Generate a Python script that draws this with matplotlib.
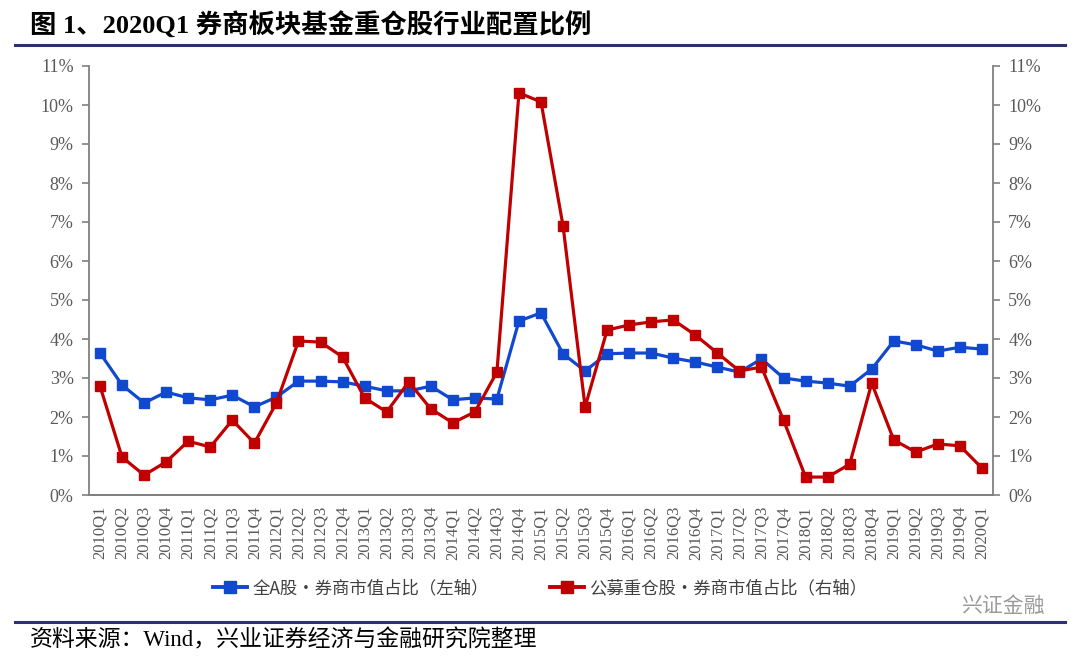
import matplotlib
matplotlib.use("Agg")
import matplotlib.pyplot as plt
from matplotlib.ticker import FuncFormatter, MultipleLocator
from matplotlib.lines import Line2D

plt.rcParams['font.family'] = ['Liberation Serif', 'Noto Sans CJK SC', 'DejaVu Sans']

quarters = [f"{y}Q{q}" for y in range(2010, 2020) for q in range(1, 5)] + ["2020Q1"]

# 全A股·券商市值占比 (左轴, %)
all_a = [3.64, 2.82, 2.36, 2.64, 2.49, 2.44, 2.56, 2.26, 2.51, 2.92,
         2.92, 2.90, 2.79, 2.67, 2.67, 2.79, 2.44, 2.49, 2.46, 4.46,
         4.67, 3.62, 3.18, 3.62, 3.64, 3.64, 3.51, 3.41, 3.28, 3.15,
         3.49, 3.00, 2.92, 2.87, 2.79, 3.23, 3.95, 3.85, 3.69, 3.79,
         3.74]
# 公募重仓股·券商市值占比 (右轴, %)
fund_heavy = [2.79, 0.97, 0.51, 0.85, 1.38, 1.23, 1.92, 1.33, 2.36, 3.95,
              3.92, 3.54, 2.49, 2.13, 2.90, 2.21, 1.85, 2.13, 3.15, 10.31,
              10.08, 6.90, 2.26, 4.23, 4.36, 4.44, 4.49, 4.10, 3.64, 3.18,
              3.28, 1.92, 0.46, 0.46, 0.79, 2.87, 1.41, 1.10, 1.31, 1.26,
              0.69]

blue = '#1048CF'
red = '#C00000'
grey = '#808080'
label_grey = '#595959'
navy = '#2E3170'

fig = plt.figure(figsize=(10.8, 6.58), dpi=100)
ax = fig.add_axes([89 / 1080, 1 - 495 / 658, 904 / 1080, 429 / 658])
ax2 = ax.twinx()

x = list(range(len(quarters)))
ax.plot(x, all_a, color=blue, lw=2.3, marker='s', ms=7.5, zorder=3)
ax2.plot(x, fund_heavy, color=red, lw=2.3, marker='s', ms=7.5, zorder=3)

ax.set_xlim(-0.5, len(quarters) - 0.5)
for a in (ax, ax2):
    a.set_ylim(0, 11)
    a.yaxis.set_major_locator(MultipleLocator(1))
    a.yaxis.set_major_formatter(FuncFormatter(lambda v, p: f"{v:.0f}%"))
    for s in a.spines.values():
        s.set_color(grey)
        s.set_linewidth(1.3)
    a.spines['top'].set_visible(False)
    a.tick_params(axis='y', direction='out', length=5, width=1.2, color=grey,
                  labelsize=13, labelcolor=label_grey, pad=6)
ax.spines['right'].set_visible(False)
ax2.spines['left'].set_visible(False)
ax.set_xticks(x)
ax.set_xticklabels(quarters, rotation=90, fontsize=12, color=label_grey)
ax.tick_params(axis='x', length=0, pad=8)

# 图例
handles = [Line2D([0], [0], color=blue, lw=2.8, marker='s', ms=8),
           Line2D([0], [0], color=red, lw=2.8, marker='s', ms=8)]
leg = fig.legend(handles, ['全A股·券商市值占比（左轴）', '公募重仓股·券商市值占比（右轴）'],
                 loc='center', bbox_to_anchor=(0.5, 1 - 588 / 658), ncol=2, frameon=False,
                 handlelength=2.0, columnspacing=3.5, handletextpad=0.3,
                 prop={'family': ['Noto Sans CJK SC'], 'size': 12.5})
for t in leg.get_texts():
    t.set_color('#404040')

# 标题与分隔线
fig.text(30 / 1080, 1 - 25 / 658, '图 1、2020Q1 券商板块基金重仓股行业配置比例',
         fontsize=19, fontweight='bold', va='center', ha='left',
         family=['Liberation Serif', 'Noto Sans CJK SC'])
fig.add_artist(Line2D([15 / 1080, 1065 / 1080], [1 - 45 / 658] * 2, color=navy, lw=2.2))
fig.add_artist(Line2D([15 / 1080, 1065 / 1080], [1 - 622 / 658] * 2, color=navy, lw=2.2))
fig.text(30 / 1080, 1 - 640 / 658, '资料来源：Wind，兴业证券经济与金融研究院整理',
         fontsize=16.5, va='center', ha='left', family=['Liberation Serif', 'Noto Sans CJK SC'])
fig.text(1045 / 1080, 1 - 606 / 658, '兴证金融', fontsize=15, color='#9a9a9a',
         va='center', ha='right', family=['Noto Sans CJK SC', 'DejaVu Sans'])

fig.savefig('out.png', dpi=100)
